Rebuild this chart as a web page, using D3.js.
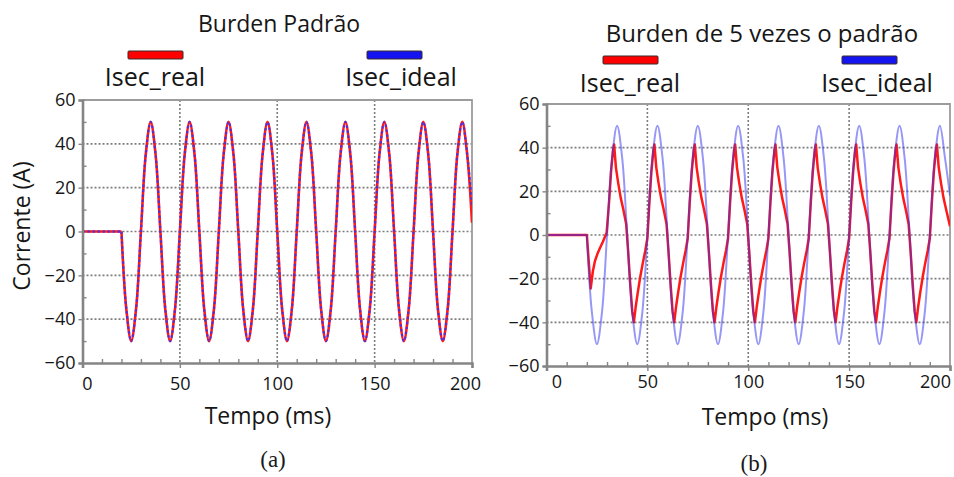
<!DOCTYPE html>
<html><head><meta charset="utf-8">
<script src="https://cdn.jsdelivr.net/npm/d3@7"></script>
<style>
body{margin:0;background:#fff}
svg{display:block}
</style>
</head><body>
<svg id="c" width="954" height="477"></svg>
<script>
// ---------------- DATA ----------------
const seriesNames = ["Isec_real", "Isec_ideal"];
const panelTitles = ["Burden Padrão", "Burden de 5 vezes o padrão"];
const panelLabels = ["(a)", "(b)"];
const xTickLabels = [0, 50, 100, 150, 200];
const yTickLabels = [-60, -40, -20, 0, 20, 40, 60];
const xTitle = "Tempo (ms)";
const yTitle = "Corrente (A)";
const onsetTime = 20; // fault onset (ms)

// sample times (ms) of the ideal secondary current
const tIdeal = [0, 20, 22.5, 25, 27.5, 30, 32.5, 35, 37.5, 40, 42.5, 45, 47.5, 50, 52.5, 55, 57.5, 60,
  62.5, 65, 67.5, 70, 72.5, 75, 77.5, 80, 82.5, 85, 87.5, 90, 92.5, 95, 97.5, 100, 102.5, 105, 107.5, 110,
  112.5, 115, 117.5, 120, 122.5, 125, 127.5, 130, 132.5, 135, 137.5, 140, 142.5, 145, 147.5, 150, 152.5, 155,
  157.5, 160, 162.5, 165, 167.5, 170, 172.5, 175, 177.5, 180, 182.5, 185, 187.5, 190, 192.5, 195, 197.5, 200];

// (a) standard burden
const leftIdeal = [0, 0,
  -35.4, -50, -35.4, 0, 35.4, 50, 35.4, 0,
  -35.4, -50, -35.4, 0, 35.4, 50, 35.4, 0,
  -35.4, -50, -35.4, 0, 35.4, 50, 35.4, 0,
  -35.4, -50, -35.4, 0, 35.4, 50, 35.4, 0,
  -35.4, -50, -35.4, 0, 35.4, 50, 35.4, 0,
  -35.4, -50, -35.4, 0, 35.4, 50, 35.4, 0,
  -35.4, -50, -35.4, 0, 35.4, 50, 35.4, 0,
  -35.4, -50, -35.4, 0, 35.4, 50, 35.4, 0,
  -35.4, -50, -35.4, 0, 35.4, 50, 35.4, 12];
const leftReal = [0, 0,
  -35.4, -50, -35.4, 0, 35.4, 50, 35.4, 0,
  -35.4, -50, -35.4, 0, 35.4, 50, 35.4, 0,
  -35.4, -50, -35.4, 0, 35.4, 50, 35.4, 0,
  -35.4, -50, -35.4, 0, 35.4, 50, 35.4, 0,
  -35.4, -50, -35.4, 0, 35.4, 50, 35.4, 0,
  -35.4, -50, -35.4, 0, 35.4, 50, 35.4, 0,
  -35.4, -50, -35.4, 0, 35.4, 50, 35.4, 0,
  -35.4, -50, -35.4, 0, 35.4, 50, 35.4, 0,
  -35.4, -50, -35.4, 0, 35.4, 50, 35.4, 4];

// (b) 5x burden
const rightIdeal = [0, 0,
  -35.4, -50, -35.4, 0, 35.4, 50, 35.4, 0,
  -35.4, -50, -35.4, 0, 35.4, 50, 35.4, 0,
  -35.4, -50, -35.4, 0, 35.4, 50, 35.4, 0,
  -35.4, -50, -35.4, 0, 35.4, 50, 35.4, 0,
  -35.4, -50, -35.4, 0, 35.4, 50, 35.4, 0,
  -35.4, -50, -35.4, 0, 35.4, 50, 35.4, 0,
  -35.4, -50, -35.4, 0, 35.4, 50, 35.4, 0,
  -35.4, -50, -35.4, 0, 35.4, 50, 35.4, 0,
  -35.4, -50, -35.4, 0, 35.4, 50, 35.4, 18];

const tRightReal = [0, 20, 21.9, 23, 24, 25.3, 26.5, 28, 29.8, 31, 32, 33,
  33.5, 34.4, 35.5, 36.8, 38, 39.5, 40.5, 41.5, 42.5, 43.3, 44.2, 45.3, 46.5, 47.7, 49, 50, 51, 52, 53,
  53.5, 54.4, 55.5, 56.8, 58, 59.5, 60.5, 61.5, 62.5, 63.3, 64.2, 65.3, 66.5, 67.7, 69, 70, 71, 72, 73,
  73.5, 74.4, 75.5, 76.8, 78, 79.5, 80.5, 81.5, 82.5, 83.3, 84.2, 85.3, 86.5, 87.7, 89, 90, 91, 92, 93,
  93.5, 94.4, 95.5, 96.8, 98, 99.5, 100.5, 101.5, 102.5, 103.3, 104.2, 105.3, 106.5, 107.7, 109, 110, 111, 112, 113,
  113.5, 114.4, 115.5, 116.8, 118, 119.5, 120.5, 121.5, 122.5, 123.3, 124.2, 125.3, 126.5, 127.7, 129, 130, 131, 132, 133,
  133.5, 134.4, 135.5, 136.8, 138, 139.5, 140.5, 141.5, 142.5, 143.3, 144.2, 145.3, 146.5, 147.7, 149, 150, 151, 152, 153,
  153.5, 154.4, 155.5, 156.8, 158, 159.5, 160.5, 161.5, 162.5, 163.3, 164.2, 165.3, 166.5, 167.7, 169, 170, 171, 172, 173,
  173.5, 174.4, 175.5, 176.8, 178, 179.5, 180.5, 181.5, 182.5, 183.3, 184.2, 185.3, 186.5, 187.7, 189, 190, 191, 192, 193,
  193.5, 194.4, 195.5, 196.8, 198, 200];
const rightReal = [0, 0, -24.5, -16.5, -12, -8.5, -6, -3, 1, 15, 29, 39,
  41.5, 31, 24, 17, 12, 5, -8, -22.5, -35, -40, -33, -26, -19, -13, -7, -1.5, 15, 29, 39,
  41.5, 31, 24, 17, 12, 5, -8, -22.5, -35, -40, -33, -26, -19, -13, -7, -1.5, 15, 29, 39,
  41.5, 31, 24, 17, 12, 5, -8, -22.5, -35, -40, -33, -26, -19, -13, -7, -1.5, 15, 29, 39,
  41.5, 31, 24, 17, 12, 5, -8, -22.5, -35, -40, -33, -26, -19, -13, -7, -1.5, 15, 29, 39,
  41.5, 31, 24, 17, 12, 5, -8, -22.5, -35, -40, -33, -26, -19, -13, -7, -1.5, 15, 29, 39,
  41.5, 31, 24, 17, 12, 5, -8, -22.5, -35, -40, -33, -26, -19, -13, -7, -1.5, 15, 29, 39,
  41.5, 31, 24, 17, 12, 5, -8, -22.5, -35, -40, -33, -26, -19, -13, -7, -1.5, 15, 29, 39,
  41.5, 31, 24, 17, 12, 5, -8, -22.5, -35, -40, -33, -26, -19, -13, -7, -1.5, 15, 29, 39,
  41.5, 31, 24, 17, 12, 4];

// ---------------- DRAWING ----------------
const FONT = "'Open Sans', 'Noto Sans', sans-serif";
const svg = d3.select("#c");
const xMinor = d3.range(10, 200, 10).filter(v => v % 50 !== 0);
const yMinor = d3.range(-50, 60, 20);
const xGrid = [50, 100, 150];
const yGrid = [-40, -20, 0, 20, 40];

function drawPanel(p, idx) {
  const x = d3.scaleLinear().domain([0, 200]).range([p.left, p.right]);
  const y = d3.scaleLinear().domain([-60, 60]).range([p.bottom, p.top]);
  const g = svg.append("g");

  // grid
  g.selectAll(null).data(yGrid).join("line")
    .attr("x1", p.left).attr("x2", p.right).attr("y1", d => y(d)).attr("y2", d => y(d))
    .attr("stroke", "#7e7e7e").attr("stroke-width", 1.6).attr("stroke-dasharray", "2,2");
  g.selectAll(null).data(xGrid).join("line")
    .attr("y1", p.top).attr("y2", p.bottom).attr("x1", d => x(d)).attr("x2", d => x(d))
    .attr("stroke", "#7e7e7e").attr("stroke-width", 1.6).attr("stroke-dasharray", "2,2");

  // frame (top & right)
  g.append("path").attr("d", `M${p.left},${p.top}H${p.right}V${p.bottom}`)
    .attr("fill", "none").attr("stroke", "#9c9c9c").attr("stroke-width", 1.8);

  // clip
  const cid = "clip" + idx;
  svg.append("clipPath").attr("id", cid).append("rect")
    .attr("x", p.left).attr("y", p.top - 2).attr("width", p.right - p.left).attr("height", p.bottom - p.top + 4);
  const plot = g.append("g").attr("clip-path", `url(#${cid})`);

  const lin = d3.line().x(d => x(d[0])).y(d => y(d[1]));
  const smooth = d3.line().x(d => x(d[0])).y(d => y(d[1])).curve(d3.curveCatmullRom.alpha(0.5));
  function sinePath(ts, vs) {
    const pts = ts.map((t, i) => [t, vs[i]]);
    return lin(pts.filter(d => d[0] <= onsetTime)) + smooth(pts.filter(d => d[0] >= onsetTime));
  }

  // real (red) first
  const realPath = p.realSmooth ? sinePath(p.tReal, p.real) : lin(p.tReal.map((t, i) => [t, p.real[i]]));
  plot.append("path").attr("d", realPath).attr("fill", "none")
    .attr("stroke", "#ff1a1a").attr("stroke-width", p.redW).attr("stroke-linejoin", "round");
  // ideal (blue) on top, translucent
  plot.append("path").attr("d", sinePath(tIdeal, p.ideal)).attr("fill", "none")
    .attr("stroke", p.blueColor).attr("stroke-opacity", p.blueOpacity).attr("stroke-width", p.blueW)
    .attr("stroke-dasharray", p.blueDash);

  // axes
  const axB = g.append("g").attr("transform", `translate(0,${p.bottom})`)
    .call(d3.axisBottom(x).tickValues(xTickLabels).tickSize(5).tickPadding(p.xPad).tickFormat(d3.format("d")));
  const axBm = g.append("g").attr("transform", `translate(0,${p.bottom})`)
    .call(d3.axisBottom(x).tickValues(xMinor).tickSize(-4).tickFormat(""));
  const axL = g.append("g").attr("transform", `translate(${p.left},0)`)
    .call(d3.axisLeft(y).tickValues(yTickLabels).tickSize(4).tickPadding(3).tickFormat(d3.format("d")));
  const axLm = g.append("g").attr("transform", `translate(${p.left},0)`)
    .call(d3.axisLeft(y).tickValues(yMinor).tickSize(-4).tickFormat(""));
  [axB, axBm, axL, axLm].forEach(a => {
    a.select(".domain").attr("stroke", "#858585").attr("stroke-width", 2.6);
    a.selectAll(".tick line").attr("stroke", "#858585").attr("stroke-width", 1.4);
    a.selectAll("text").attr("font-family", FONT).attr("font-size", 18).attr("fill", "#161616");
  });
  axBm.select(".domain").remove(); axLm.select(".domain").remove();
  axB.selectAll(".tick text").attr("dx", d => (p.xShift[d] || 0));

  // axis title X
  svg.append("text").attr("x", p.xTitleX).attr("y", p.xTitleY).attr("text-anchor", "middle")
    .attr("font-family", FONT).attr("font-size", 23).attr("fill", "#161616").text(xTitle);

  // title
  svg.append("text").attr("x", p.titleX).attr("y", p.titleY).attr("text-anchor", "middle")
    .attr("font-family", FONT).attr("font-size", p.titleSize).attr("fill", "#161616").text(panelTitles[idx]);

  // legend
  const legColors = ["#ff0000", "#1414f0"];
  p.legend.forEach((lg, i) => {
    svg.append("rect").attr("x", lg.bx).attr("y", lg.by).attr("width", 55).attr("height", 8)
      .attr("rx", 1).attr("fill", legColors[i]).attr("stroke", "#3a2a2a").attr("stroke-width", 1);
    svg.append("text").attr("x", lg.tx).attr("y", lg.ty).attr("text-anchor", "middle")
      .attr("font-family", FONT).attr("font-size", 25).attr("fill", "#161616").text(seriesNames[i]);
  });

  // (a)/(b)
  svg.append("text").attr("x", p.labX).attr("y", p.labY).attr("text-anchor", "middle")
    .attr("font-family", "'Liberation Serif', 'DejaVu Serif', serif").attr("font-size", 23)
    .attr("fill", "#1a1a1a").text(panelLabels[idx]);
}

drawPanel({
  left: 82.5, right: 472, top: 100, bottom: 363,
  tReal: tIdeal, real: leftReal, realSmooth: true, ideal: leftIdeal,
  redW: 2.6, blueW: 2.4, blueColor: "#3030ff", blueOpacity: 0.75, blueDash: "2.5,2.5",
  xPad: 9, xShift: {0: 4.5, 200: -7},
  xTitleX: 268, xTitleY: 424,
  titleX: 279, titleY: 32, titleSize: 23,
  legend: [{bx: 128, by: 51, tx: 155, ty: 86}, {bx: 367, by: 51, tx: 401, ty: 86}],
  labX: 273, labY: 467
}, 0);

drawPanel({
  left: 546.5, right: 950, top: 104, bottom: 366,
  tReal: tRightReal, real: rightReal, realSmooth: false, ideal: rightIdeal,
  redW: 2.5, blueW: 2.0, blueColor: "#3030f0", blueOpacity: 0.5, blueDash: null,
  xPad: 4, xShift: {0: 10, 200: -15},
  xTitleX: 765, xTitleY: 425,
  titleX: 762, titleY: 42, titleSize: 24,
  legend: [{bx: 603, by: 56, tx: 630, ty: 92}, {bx: 842, by: 56, tx: 877, ty: 92}],
  labX: 754, labY: 471
}, 1);

// Y title (left panel only)
svg.append("text").attr("transform", "translate(30,226) rotate(-90)").attr("text-anchor", "middle")
  .attr("font-family", FONT).attr("font-size", 23).attr("fill", "#161616").text(yTitle);
</script>
</body></html>
